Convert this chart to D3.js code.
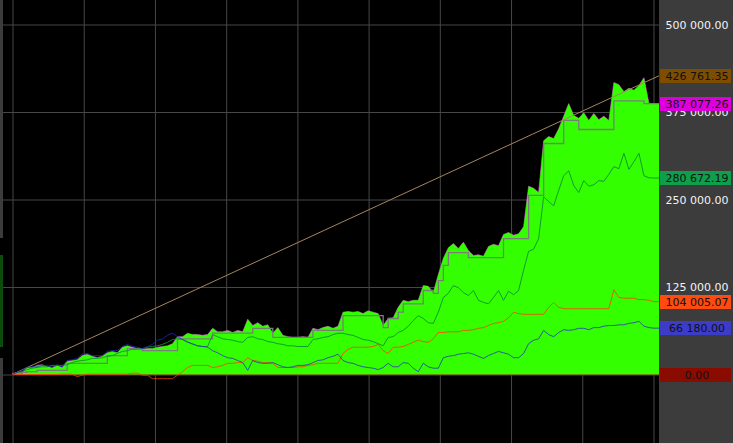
<!DOCTYPE html>
<html><head><meta charset="utf-8">
<script src="https://cdn.jsdelivr.net/npm/d3@7"></script>
<style>html,body{margin:0;padding:0;background:#000;overflow:hidden}</style>
</head><body><svg id="c" width="733" height="443"></svg>
<script>
// values in thousands
const equity = [1,3,3,10,10,13,14,11,10,13,
10,19,20,21,27,29,26,24,26,31,
33,31,39,41,39,37,36,37,37,39,
40,41,44,54,54,59,57,57,56,57,
66,61,61,63,60,63,61,79,70,74,
69,71,59,67,56,54,53,53,54,53,
66,64,67,69,66,69,89,90,89,90,
87,91,89,87,70,80,81,96,106,104,
106,106,127,126,117,143,166,181,187,180,
189,177,170,171,169,183,186,184,200,203,
199,201,211,269,266,260,334,340,337,351,
369,387,370,366,374,363,373,364,369,363,
417,414,404,409,406,413,424,387.08,387.08,387.08];
const stepLine = [1,1,3,4,4,6,6,6,6,6,
6,16,16,16,16,16,16,16,16,27,
27,27,27,37,37,37,34,34,34,34,
34,34,34,51,51,51,51,51,51,51,
59,59,59,59,59,59,59,59,66,66,
66,66,53,53,53,53,53,53,53,53,
63,63,63,63,63,63,84,84,84,84,
84,84,84,84,67,80,80,89,101,101,
101,101,120,120,116,134,156,174,174,174,
174,167,167,167,167,167,167,167,194,194,
194,194,194,256,256,256,330,330,330,330,
363,363,363,350,350,350,350,350,350,350,
391,391,391,391,391,391,387.08,387.08,387.08,387.08];
const seriesGreen = [0,3,4,7,9,10,11,11,13,13,
13,14,17,19,20,21,23,23,24,26,
27,30,33,34,36,36,37,39,40,41,
43,46,50,51,50,47,43,41,40,40,
57,54,51,50,49,47,46,53,54,51,
50,47,46,44,43,41,41,40,40,40,
50,51,53,54,57,59,59,57,56,53,
50,49,47,44,41,53,54,60,63,69,
77,84,80,74,73,89,110,116,127,124,
117,113,120,106,103,101,110,120,106,119,
114,120,149,176,179,194,254,247,241,263,
284,291,270,260,277,269,271,277,276,286,
297,294,316,293,304,316,284,281,280.67,280.67];
const seriesOrange = [0,0,0,0,0,0,0,0,0,0,
0.5,0.5,0.5,-3,-1,0.5,0.5,0.5,0.5,0.5,
0.5,0.5,0.5,0.5,2,2,-1,-1,-6,-6,
-6,-6,-6,-1,4,10,13,13,13,13,
10,11,13,16,16,17,17,24,20,19,
17,17,16,10,10,10,10,11,11,13,
14,16,16,16,16,16,30,36,39,39,
39,39,40,43,34,30,39,39,40,43,
46,49,47,46,51,60,60,61,61,61,
63,63,64,66,67,70,73,74,76,81,
89,87,86,86,86,86,86,96,103,96,
94,94,94,94,94,94,94,94,94,94,
121,110,109,109,109,107,107,106,104.01,104.01];
const seriesBlue = [0,3,6,10,11,11,13,13,10,14,
11,20,21,23,29,30,27,27,27,33,
34,34,40,43,40,39,37,40,43,49,
51,56,59,54,50,46,44,41,40,39,
34,31,27,24,23,20,17,6,20,17,
16,16,17,14,11,10,11,13,13,14,
17,20,21,24,26,29,20,17,16,13,
11,10,9,7,10,16,11,11,17,16,
9,4,16,11,9,9,24,26,27,29,
30,31,29,26,23,27,30,33,31,29,
24,24,30,44,49,51,63,57,54,60,
64,63,64,66,66,64,67,67,69,70,
70,71,71,73,74,76,69,67,66.18,66.18];
const benchmark = [0, 426.76135];
const yTicks = [0, 125000, 250000, 375000, 500000];
const xGrid = [0, 14.2, 28.4, 42.6, 56.8, 71.0, 85.2, 99.4, 113.6, 127.8];
const lastValues = [426761.35, 387077.26, 280672.19, 104005.07, 66180.00, 0];
const lastColors = ["#7f4d00", "#dd00dd", "#0f9e4c", "#ff4a10", "#3c3cc8", "#8a0c00"];

const svg = d3.select("#c");
const W = 733, H = 443;
const x = d3.scaleLinear().domain([0, equity.length - 1]).range([12, 659]);
const y = d3.scaleLinear().domain([0, 500000]).range([374.5, 24.5]);
const K = 1000;

svg.append("rect").attr("width", W).attr("height", H).attr("fill", "#000");

// left clipped strip
svg.append("rect").attr("x", 0).attr("y", 0).attr("width", 3).attr("height", H).attr("fill", "#3c3c3c");
svg.append("rect").attr("x", 0).attr("y", 238).attr("width", 3).attr("height", 120).attr("fill", "#000");
svg.append("rect").attr("x", 0).attr("y", 255).attr("width", 3).attr("height", 92).attr("fill", "#0b4d0b");

// grid
const gx = svg.append("g")
  .call(d3.axisBottom(x).tickValues(xGrid).tickSize(H).tickFormat(""));
gx.select(".domain").remove();
gx.selectAll("line").attr("stroke", "#474747").attr("transform", "translate(0.5,0)");
const gy = svg.append("g").attr("transform", "translate(659,0)")
  .call(d3.axisLeft(y).tickValues(yTicks).tickSize(656).tickFormat(""));
gy.select(".domain").remove();
gy.selectAll("line").attr("stroke", "#474747");

const plot = svg.append("g");
plot.append("clipPath").attr("id", "clp").append("rect").attr("x", 3).attr("y", 0).attr("width", 656).attr("height", H);
const g = plot.append("g").attr("clip-path", "url(#clp)");

const line = d3.line().x((d, i) => x(i)).y(d => y(d * K));

// zero line
g.append("path").datum([0, 0]).attr("d", d3.line().x((d, i) => x(i * (equity.length - 1))).y(d => y(d)))
  .attr("stroke", "#a01000").attr("stroke-width", 1.2).attr("fill", "none");

// magenta under fill
g.append("path").datum(equity).attr("d", line).attr("stroke", "#c030c0").attr("stroke-width", 0.9).attr("fill", "none");

// green area
g.append("path").datum(equity)
  .attr("d", d3.area().x((d, i) => x(i)).y0(y(0)).y1(d => y(d * K)))
  .attr("fill", "#33ff00");

// gray step line
g.append("path").datum(stepLine)
  .attr("d", d3.line().x((d, i) => x(i)).y(d => y(d * K)).curve(d3.curveStepAfter))
  .attr("stroke", "#7c7c7c").attr("stroke-width", 1.3).attr("fill", "none");

// benchmark diagonal
g.append("path").datum(benchmark)
  .attr("d", d3.line().x((d, i) => x(i * (equity.length - 1))).y(d => y(d * K)))
  .attr("stroke", "#a58560").attr("stroke-width", 1).attr("fill", "none");

g.append("path").datum(seriesGreen).attr("d", line).attr("stroke", "#0f8f38").attr("stroke-width", 1).attr("stroke-opacity", 0.9).attr("fill", "none");
g.append("path").datum(seriesOrange).attr("d", line).attr("stroke", "#ff4000").attr("stroke-width", 1).attr("stroke-opacity", 0.8).attr("fill", "none");
g.append("path").datum(seriesBlue).attr("d", line).attr("stroke", "#2828c8").attr("stroke-width", 1).attr("stroke-opacity", 0.75).attr("fill", "none");

// right panel
svg.append("rect").attr("x", 659).attr("y", 0).attr("width", W - 659).attr("height", H).attr("fill", "#3c3c3c");

const fmt = d3.formatLocale({decimal: ".", thousands: " ", grouping: [3], currency: ["", ""]}).format(",.2f");

const ay = svg.append("g").attr("transform", "translate(697,0)")
  .call(d3.axisRight(y).tickValues(yTicks.filter(v => v > 0)).tickSize(0).tickPadding(0).tickFormat(fmt));
ay.select(".domain").remove();
ay.selectAll("text").attr("text-anchor", "middle").attr("fill", "#f2f2f2")
  .attr("font-family", "DejaVu Sans").attr("font-size", 11);

const lbl = svg.append("g");
lastValues.forEach((v, i) => {
  const cy = Math.round(y(v));
  lbl.append("rect").attr("x", 660).attr("y", cy - 7).attr("width", 71).attr("height", 14).attr("fill", lastColors[i]);
  lbl.append("text").attr("x", 697).attr("y", cy).attr("dy", "0.36em").attr("text-anchor", "middle")
    .attr("font-family", "DejaVu Sans").attr("font-size", 11).attr("fill", "#111").text(fmt(v));
});
</script></body></html>
